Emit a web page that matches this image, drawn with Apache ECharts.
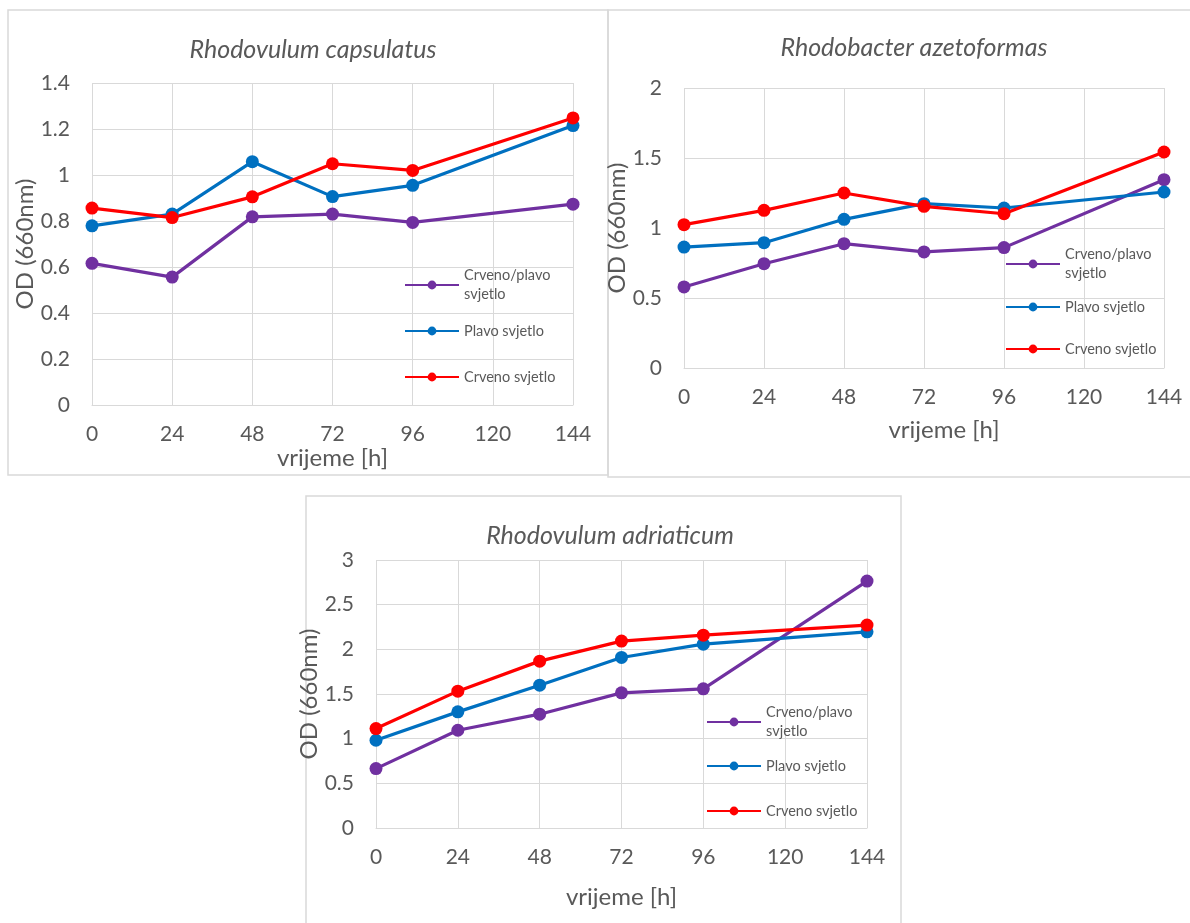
<!DOCTYPE html>
<html>
<head>
<meta charset="utf-8">
<script src="https://cdn.jsdelivr.net/npm/echarts@6/dist/echarts.min.js"></script>
<style>
  html, body { margin: 0; padding: 0; background: #fff; }
  #chart { width: 1190px; height: 923px; }
</style>
</head>
<body>
<div id="chart"></div>
<script>
// ---- data ----
const hours = ['0', '24', '48', '72', '96', '120', '144'];
const seriesNames = ['Crveno/plavo svjetlo', 'Plavo svjetlo', 'Crveno svjetlo'];
const seriesColors = ['#7030A0', '#0070C0', '#FF0000'];
const panelTitles = ['Rhodovulum capsulatus', 'Rhodobacter azetoformas', 'Rhodovulum adriaticum'];

// Rhodovulum capsulatus
const capsCrvenoPlavo = [0.616, 0.556, 0.818, 0.830, 0.794, null, 0.873];
const capsPlavo       = [0.779, 0.830, 1.058, 0.906, 0.955, null, 1.215];
const capsCrveno      = [0.856, 0.815, 0.905, 1.049, 1.020, null, 1.248];

// Rhodobacter azetoformas
const azetCrvenoPlavo = [0.579, 0.745, 0.888, 0.829, 0.860, null, 1.345];
const azetPlavo       = [0.864, 0.895, 1.062, 1.174, 1.143, null, 1.257];
const azetCrveno      = [1.024, 1.126, 1.250, 1.155, 1.102, null, 1.543];

// Rhodovulum adriaticum
const adriCrvenoPlavo = [0.665, 1.094, 1.274, 1.513, 1.558, null, 2.764];
const adriPlavo       = [0.982, 1.300, 1.599, 1.909, 2.058, null, 2.196];
const adriCrveno      = [1.113, 1.532, 1.868, 2.092, 2.159, null, 2.271];

const yMax = [1.4, 2, 3];
const yStep = [0.2, 0.5, 0.5];

const panelData = [
  [capsCrvenoPlavo, capsPlavo, capsCrveno],
  [azetCrvenoPlavo, azetPlavo, azetCrveno],
  [adriCrvenoPlavo, adriPlavo, adriCrveno]
];

// ---- layout ----
const FONT = 'Lato, "Open Sans", sans-serif';
const TXT = '#595959';
const GRIDC = '#D9D9D9';

const grids = [
  { left: 92, top: 83, width: 481, height: 322 },
  { left: 684, top: 88, width: 480, height: 280 },
  { left: 376, top: 560, width: 491, height: 268 }
];
const titlePos = [[308, 32], [909, 30], [605, 518]];
const xNameGap = [40, 50, 57];
const xNamePad = [[0,0,0,0], [0,0,0,40], [0,0,0,0]];
const yNameGap = [51, 43, 36];
const legendPos = [
  { x: 404, ys: [285, 331, 377] },
  { x: 1005, ys: [264, 307, 349] },
  { x: 706, ys: [722, 766, 811] }
];

const xAxes = [], yAxes = [], series = [], legends = [], titles = [];
for (let p = 0; p < 3; p++) {
  titles.push({
    text: panelTitles[p],
    left: titlePos[p][0], top: titlePos[p][1], textAlign: 'center',
    textStyle: { fontFamily: FONT, fontStyle: 'italic', fontWeight: 'normal', fontSize: 25, color: TXT }
  });
  xAxes.push({
    type: 'category', gridIndex: p, data: hours, boundaryGap: false,
    name: 'vrijeme [h]', nameLocation: 'middle', nameGap: xNameGap[p],
    nameTextStyle: { fontFamily: FONT, fontSize: 24, color: TXT, padding: xNamePad[p] },
    axisLine: { show: true, lineStyle: { color: GRIDC, width: 1 } },
    axisTick: { show: false },
    axisLabel: { interval: 0, margin: 19, fontFamily: FONT, fontSize: 21, color: TXT },
    splitLine: { show: true, interval: 0, lineStyle: { color: GRIDC, width: 1 } }
  });
  yAxes.push({
    type: 'value', gridIndex: p, min: 0, max: yMax[p], interval: yStep[p],
    name: 'OD (660nm)', nameLocation: 'middle', nameGap: yNameGap[p],
    nameTextStyle: { fontFamily: FONT, fontSize: 24, color: TXT },
    axisLine: { show: false }, axisTick: { show: false },
    axisLabel: { margin: 22, fontFamily: FONT, fontSize: 21, color: TXT },
    splitLine: { show: true, lineStyle: { color: GRIDC, width: 1 } }
  });
  for (let s = 0; s < 3; s++) {
    series.push({
      type: 'line', name: seriesNames[s], xAxisIndex: p, yAxisIndex: p,
      data: panelData[p][s], connectNulls: true,
      symbol: 'circle', symbolSize: 13, showSymbol: true,
      lineStyle: { color: seriesColors[s], width: 3.2 },
      itemStyle: { color: seriesColors[s] },
      emphasis: { disabled: true }, animation: false
    });
    const lp = legendPos[p];
    const twoLine = s === 0;
    legends.push({
      data: [seriesNames[s]], selectedMode: false,
      left: lp.x, top: twoLine ? lp.ys[s] - 28.5 : lp.ys[s] - 9.5,
      padding: 0, itemWidth: 54, itemHeight: 11, itemGap: 0,
      formatter: twoLine ? 'Crveno/plavo\nsvjetlo' : '{name}',
      textStyle: {
        fontFamily: FONT, fontSize: 14.5, color: TXT, lineHeight: 19,
        padding: twoLine ? [19, 0, 0, 0] : 0
      }
    });
  }
}

const chart = echarts.init(document.getElementById('chart'), null, { renderer: 'canvas' });
chart.setOption({
  backgroundColor: '#fff',
  animation: false,
  title: titles,
  grid: grids,
  xAxis: xAxes,
  yAxis: yAxes,
  legend: legends,
  series: series,
  graphic: [
    { type: 'rect', shape: { x: 8, y: 10, width: 600, height: 465 }, style: { fill: 'none', stroke: GRIDC, lineWidth: 1.5 }, z: -1 },
    { type: 'rect', shape: { x: 608, y: 10, width: 600, height: 467 }, style: { fill: 'none', stroke: GRIDC, lineWidth: 1.5 }, z: -1 },
    { type: 'rect', shape: { x: 306, y: 496, width: 595, height: 450 }, style: { fill: 'none', stroke: GRIDC, lineWidth: 1.5 }, z: -1 }
  ]
});
</script>
</body>
</html>
